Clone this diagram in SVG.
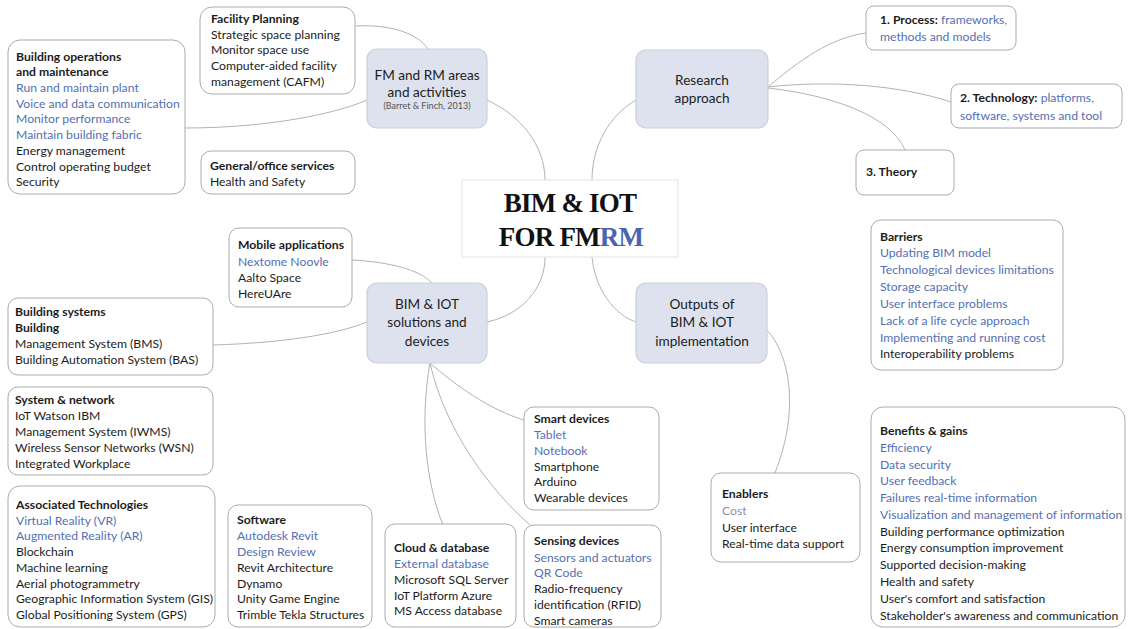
<svg xmlns="http://www.w3.org/2000/svg" width="1131" height="629" viewBox="0 0 1131 629">
<style>
text{font-family:Lato,"Liberation Sans",sans-serif;font-size:12.2px;fill:#1c1c1c}
.b{font-weight:bold}
.bl{fill:#5470b4}
.gr{fill:#8a8fa6}
.box{fill:#fff;stroke:#ababab;stroke-width:1}
.main{fill:#dde2ee;stroke:#c9cfdc;stroke-width:1.2}
.mt{font-size:13.6px;text-anchor:middle}
.cite{font-size:9px;fill:#555;text-anchor:middle}
.con path{fill:none;stroke:#b3b3b3;stroke-width:1}
.title{font-family:"Liberation Serif",serif;font-weight:bold;font-size:27px;fill:#111;text-anchor:middle;letter-spacing:-0.8px}
.rm{fill:#4a64b2}
</style>
<rect width="1131" height="629" fill="#fff"/>
<g class="con" id="connectors">
<path d="M355,26 C392,24 418,34 428,49"/>
<path d="M185,128 C260,128 330,116 367,100"/>
<path d="M487,100 C520,115 545,145 545,180"/>
<path d="M636,100 C610,115 592,145 592,180"/>
<path d="M768,87 C800,60 830,38 866,33"/>
<path d="M768,87 C830,80 900,85 951,102"/>
<path d="M768,88 C830,95 890,115 905,150"/>
<path d="M545,257 C545,290 520,315 487,322"/>
<path d="M592,257 C595,290 615,315 636,322"/>
<path d="M352,260 C390,262 420,270 432,283"/>
<path d="M213,345 C280,343 335,335 367,322"/>
<path d="M430,363 C455,385 490,410 524,420"/>
<path d="M430,363 C420,420 425,480 443,525"/>
<path d="M430,363 C445,430 490,490 530,525"/>
<path d="M767,330 C790,355 800,410 775,473"/>
</g>
<g id="center">
<rect x="462" y="180" width="216" height="77" fill="#fff" stroke="#e4e4e4"/>
<text class="title" x="570" y="212">BIM &amp; IOT</text>
<text class="title" x="571" y="246">FOR FM<tspan class="rm">RM</tspan></text>
</g>
<g id="fm-rm">
<rect class="main" x="367" y="49" width="120" height="79" rx="10"/>
<text class="mt" x="427" y="80">FM and RM areas</text>
<text class="mt" x="427" y="97">and activities</text>
<text class="cite" x="427" y="109">(Barret &amp; Finch, 2013)</text>
</g>
<g id="research">
<rect class="main" x="636" y="50" width="132" height="78" rx="10"/>
<text class="mt" x="702" y="85">Research</text>
<text class="mt" x="702" y="103">approach</text>
</g>
<g id="solutions">
<rect class="main" x="367" y="283" width="120" height="80" rx="10"/>
<text class="mt" x="427" y="309">BIM &amp; IOT</text>
<text class="mt" x="427" y="327">solutions and</text>
<text class="mt" x="427" y="346">devices</text>
</g>
<g id="outputs">
<rect class="main" x="636" y="283" width="131" height="80" rx="10"/>
<text class="mt" x="702" y="309">Outputs of</text>
<text class="mt" x="702" y="327">BIM &amp; IOT</text>
<text class="mt" x="702" y="346">implementation</text>
</g>
<g id="facility-planning">
<rect class="box" x="200" y="7" width="155" height="87" rx="12"/>
<text class="b" x="211" y="22.5">Facility Planning</text>
<text x="211" y="38.5">Strategic space planning</text>
<text x="211" y="53.5">Monitor space use</text>
<text x="211" y="69.5">Computer-aided facility</text>
<text x="211" y="85.5">management (CAFM)</text>
</g>
<g id="building-operations">
<rect class="box" x="8" y="40" width="177" height="154" rx="12"/>
<text class="b" x="16" y="60.5">Building operations</text>
<text class="b" x="16" y="75.5">and maintenance</text>
<text class="bl" x="16" y="91.5">Run and maintain plant</text>
<text class="bl" x="16" y="107.5">Voice and data communication</text>
<text class="bl" x="16" y="122.5">Monitor performance</text>
<text class="bl" x="16" y="138.5">Maintain building fabric</text>
<text x="16" y="154.5">Energy management</text>
<text x="16" y="170.5">Control operating budget</text>
<text x="16" y="185.5">Security</text>
</g>
<g id="general-services">
<rect class="box" x="201" y="151" width="154" height="43" rx="10"/>
<text class="b" x="210" y="169.5">General/office services</text>
<text x="210" y="185.5">Health and Safety</text>
</g>
<g id="process">
<rect class="box" x="866" y="6" width="150" height="44" rx="8"/>
<text x="880" y="23.5"><tspan class="b">1. Process:</tspan><tspan class="bl"> frameworks,</tspan></text>
<text class="bl" x="880" y="40.5">methods and models</text>
</g>
<g id="technology">
<rect class="box" x="951" y="84" width="171" height="44" rx="8"/>
<text x="960" y="101.5"><tspan class="b">2. Technology:</tspan><tspan class="bl"> platforms,</tspan></text>
<text class="bl" x="960" y="119.5">software, systems and tool</text>
</g>
<g id="theory">
<rect class="box" x="856" y="150" width="98" height="45" rx="8"/>
<text class="b" x="866" y="175.5">3. Theory</text>
</g>
<g id="barriers">
<rect class="box" x="871" y="220" width="192" height="150" rx="10"/>
<text class="b" x="880" y="240.5">Barriers</text>
<text class="bl" x="880" y="256.5">Updating BIM model</text>
<text class="bl" x="880" y="273.5">Technological devices limitations</text>
<text class="bl" x="880" y="290.5">Storage capacity</text>
<text class="bl" x="880" y="307.5">User interface problems</text>
<text class="bl" x="880" y="324.5">Lack of a life cycle approach</text>
<text class="bl" x="880" y="341.5">Implementing and running cost</text>
<text x="880" y="357.5">Interoperability problems</text>
</g>
<g id="mobile-applications">
<rect class="box" x="229" y="228" width="123" height="79" rx="10"/>
<text class="b" x="238" y="248.5">Mobile applications</text>
<text class="bl" x="238" y="265.5">Nextome Noovle</text>
<text x="238" y="281.5">Aalto Space</text>
<text x="238" y="297.5">HereUAre</text>
</g>
<g id="building-systems">
<rect class="box" x="8" y="298" width="205" height="77" rx="10"/>
<text class="b" x="15" y="315.5">Building systems</text>
<text class="b" x="15" y="331.5">Building</text>
<text x="15" y="347.5">Management System (BMS)</text>
<text x="15" y="363.5">Building Automation System (BAS)</text>
</g>
<g id="system-network">
<rect class="box" x="8" y="387" width="205" height="88" rx="10"/>
<text class="b" x="15" y="403.5">System &amp; network</text>
<text x="15" y="419.5">IoT Watson IBM</text>
<text x="15" y="435.5">Management System (IWMS)</text>
<text x="15" y="451.5">Wireless Sensor Networks (WSN)</text>
<text x="15" y="467.5">Integrated Workplace</text>
</g>
<g id="smart-devices">
<rect class="box" x="524" y="407" width="135" height="103" rx="10"/>
<text class="b" x="534" y="422.5">Smart devices</text>
<text class="bl" x="534" y="438.5">Tablet</text>
<text class="bl" x="534" y="454.5">Notebook</text>
<text x="534" y="470.5">Smartphone</text>
<text x="534" y="485.5">Arduino</text>
<text x="534" y="501.5">Wearable devices</text>
</g>
<g id="enablers">
<rect class="box" x="711" y="473" width="149" height="89" rx="10"/>
<text class="b" x="722" y="497.5">Enablers</text>
<text class="gr" x="722" y="514.5">Cost</text>
<text x="722" y="531.5">User interface</text>
<text x="722" y="547.5">Real-time data support</text>
</g>
<g id="benefits">
<rect class="box" x="871" y="407" width="254" height="220" rx="12"/>
<text class="b" x="880" y="434.5">Benefits &amp; gains</text>
<text class="bl" x="880" y="451.5">Efficiency</text>
<text class="bl" x="880" y="468.5">Data security</text>
<text class="bl" x="880" y="484.5">User feedback</text>
<text class="bl" x="880" y="501.5">Failures real-time information</text>
<text class="bl" x="880" y="518.5">Visualization and management of information</text>
<text x="880" y="535.5">Building performance optimization</text>
<text x="880" y="551.5">Energy consumption improvement</text>
<text x="880" y="568.5">Supported decision-making</text>
<text x="880" y="585.5">Health and safety</text>
<text x="880" y="602.5">User's comfort and satisfaction</text>
<text x="880" y="619.5">Stakeholder's awareness and communication</text>
</g>
<g id="associated-technologies">
<rect class="box" x="8" y="486" width="207" height="141" rx="12"/>
<text class="b" x="16" y="508.5">Associated Technologies</text>
<text class="bl" x="16" y="524.5">Virtual Reality (VR)</text>
<text class="bl" x="16" y="539.5">Augmented Reality (AR)</text>
<text x="16" y="555.5">Blockchain</text>
<text x="16" y="571.5">Machine learning</text>
<text x="16" y="587.5">Aerial photogrammetry</text>
<text x="16" y="602.5">Geographic Information System (GIS)</text>
<text x="16" y="618.5">Global Positioning System (GPS)</text>
</g>
<g id="software">
<rect class="box" x="228" y="505" width="144" height="122" rx="10"/>
<text class="b" x="237" y="523.5">Software</text>
<text class="bl" x="237" y="539.5">Autodesk Revit</text>
<text class="bl" x="237" y="555.5">Design Review</text>
<text x="237" y="571.5">Revit Architecture</text>
<text x="237" y="587.5">Dynamo</text>
<text x="237" y="602.5">Unity Game Engine</text>
<text x="237" y="618.5">Trimble Tekla Structures</text>
</g>
<g id="cloud-database">
<rect class="box" x="385" y="524" width="131" height="103" rx="10"/>
<text class="b" x="394" y="551.5">Cloud &amp; database</text>
<text class="bl" x="394" y="567.5">External database</text>
<text x="394" y="583.5">Microsoft SQL Server</text>
<text x="394" y="599.5">IoT Platform Azure</text>
<text x="394" y="614.5">MS Access database</text>
</g>
<g id="sensing-devices">
<rect class="box" x="524" y="525" width="137" height="102" rx="10"/>
<text class="b" x="534" y="544.5">Sensing devices</text>
<text class="bl" x="534" y="561.5">Sensors and actuators</text>
<text class="bl" x="534" y="576.5">QR Code</text>
<text x="534" y="592.5">Radio-frequency</text>
<text x="534" y="608.5">identification (RFID)</text>
<text x="534" y="624.5">Smart cameras</text>
</g>
</svg>
